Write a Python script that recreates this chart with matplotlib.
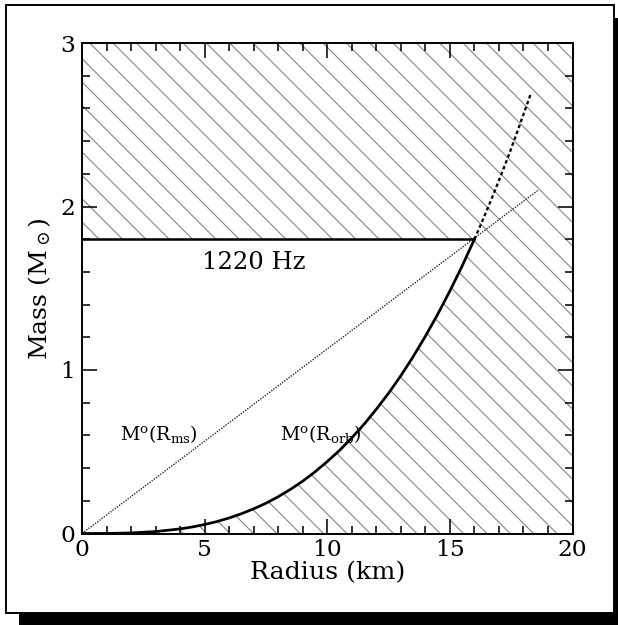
import matplotlib
matplotlib.use("Agg")
import matplotlib.pyplot as plt
from matplotlib.patches import Rectangle

# radius (km) and mass (Msun)
r_orb = [0, 1, 2, 3, 4, 4.5, 5, 5.5, 6, 6.5, 7, 7.5, 8, 8.5, 9, 9.5, 10, 10.5,
         11, 11.5, 12, 12.5, 13, 13.5, 14, 14.5, 15, 15.5, 16]
m_orb = [0, 0.0004, 0.0035, 0.012, 0.028, 0.04, 0.055, 0.073, 0.095, 0.121,
         0.151, 0.185, 0.225, 0.27, 0.32, 0.377, 0.44, 0.508, 0.585, 0.668,
         0.76, 0.858, 0.965, 1.081, 1.206, 1.34, 1.483, 1.636, 1.80]
r_orb_ext = [16, 16.25, 16.5, 16.75, 17, 17.25, 17.5, 17.75, 18, 18.3]
m_orb_ext = [1.80, 1.885, 1.974, 2.065, 2.159, 2.255, 2.355, 2.458, 2.563, 2.69]
r_ms = [0, 18.6]
m_ms = [0, 2.1]
m_max = 1.8
r_cross = 16
freq_label = "1220 Hz"

plt.rcParams['font.family'] = 'DejaVu Serif'
plt.rcParams['mathtext.fontset'] = 'dejavuserif'
plt.rcParams['hatch.linewidth'] = 0.55

dpi = 140
fig = plt.figure(figsize=(618/dpi, 625/dpi), dpi=dpi)

# framed box with shadow
fig.patches.append(Rectangle((19/618, -0.1), 1.0, 0.1 + 607/625, transform=fig.transFigure,
                             facecolor='black', edgecolor='none', zorder=-3))
fig.patches.append(Rectangle((6/618, 12/625), 608/618, 608/625, transform=fig.transFigure,
                             facecolor='white', edgecolor='black', linewidth=1.0, zorder=-2))

ax = fig.add_axes([82/618, (625-533.5)/625, 490.5/618, 490.5/625])
ax.set_facecolor('none')
ax.set_xlim(0, 20)
ax.set_ylim(0, 3)

# hatched excluded regions
ax.fill_between([0, 20], m_max, 3, facecolor='none', edgecolor='#808080',
                hatch='\\\\', linewidth=0)
ax.fill_between(r_orb + [20], 0, m_orb + [m_max], facecolor='none', edgecolor='#808080',
                hatch='\\\\', linewidth=0)

ax.plot([0, r_cross], [m_max, m_max], color='black', lw=1.3)
ax.plot(r_ms, m_ms, color='#222222', lw=0.7, ls=(0, (1, 1)))
ax.plot(r_orb, m_orb, color='black', lw=1.4)
ax.plot(r_orb_ext, m_orb_ext, color='black', lw=1.2, ls=(0, (1.5, 1.2)))

ax.text(7.0, 1.66, freq_label, fontsize=12.5, ha='center', va='center')
ax.text(3.15, 0.61, r'M$^{\rm o}$(R$_{\rm ms}$)', fontsize=9.8, ha='center', va='center')
ax.text(9.75, 0.61, r'M$^{\rm o}$(R$_{\rm orb}$)', fontsize=9.8, ha='center', va='center')

ax.set_xticks([0, 5, 10, 15, 20])
ax.set_xticks(range(0, 21), minor=True)
ax.set_yticks([0, 1, 2, 3])
ax.set_yticks([i * 0.2 for i in range(16)], minor=True)
ax.tick_params(which='both', direction='in', top=True, right=True, width=0.8, labelsize=12)
ax.tick_params(which='major', length=7.5)
ax.tick_params(which='minor', length=4)
ax.tick_params(axis='x', pad=3)
ax.tick_params(axis='y', pad=3.5)
for s in ax.spines.values():
    s.set_linewidth(1.0)

ax.set_xlabel("Radius (km)", fontsize=13, labelpad=0)
ax.set_ylabel(r"Mass (M$_\odot$)", fontsize=13, labelpad=4)

fig.savefig("out.png", dpi=dpi)
